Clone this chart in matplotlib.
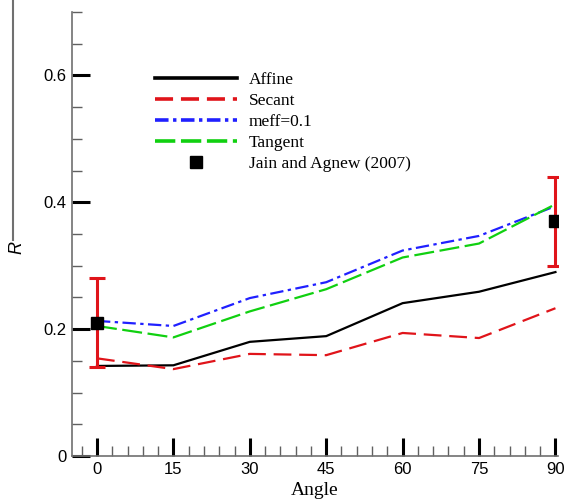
import matplotlib
matplotlib.use("Agg")
import matplotlib.pyplot as plt
from matplotlib.lines import Line2D
from matplotlib.ticker import MultipleLocator, FuncFormatter

angles = [0, 15, 30, 45, 60, 75, 90]
affine = [0.142, 0.143, 0.180, 0.189, 0.241, 0.259, 0.290]
secant = [0.154, 0.137, 0.161, 0.159, 0.194, 0.186, 0.233]
meff = [0.213, 0.205, 0.249, 0.274, 0.324, 0.347, 0.394]
tangent = [0.205, 0.187, 0.228, 0.263, 0.313, 0.335, 0.397]

exp_angle = [0, 90]
exp_r = [0.21, 0.37]
exp_lo = [0.14, 0.30]
exp_hi = [0.28, 0.44]

serif = ["Liberation Serif", "DejaVu Serif"]
sans = ["Liberation Sans", "DejaVu Sans"]

RED, BLUE, GREEN = "#e0141a", "#2020ff", "#10d010"
styles = {
    "Affine": dict(color="black", ls="-"),
    "Secant": dict(color=RED, ls=(0, (8, 3.5))),
    "meff=0.1": dict(color=BLUE, ls=(0, (6, 2, 1.5, 2))),
    "Tangent": dict(color=GREEN, ls=(0, (9, 2.5))),
}

fig = plt.figure(figsize=(5.79, 5.01), dpi=100)
ax = fig.add_axes([0.1244, 0.0898, 0.8393, 0.8862])

for name, vals in (("Affine", affine), ("Secant", secant),
                   ("meff=0.1", meff), ("Tangent", tangent)):
    ax.plot(angles, vals, lw=1.6, **styles[name])

err = [[r - lo for r, lo in zip(exp_r, exp_lo)], [hi - r for r, hi in zip(exp_r, exp_hi)]]
ax.errorbar(exp_angle, exp_r, yerr=err, fmt="none", ecolor=RED, elinewidth=2.2,
            capsize=6, capthick=2.2, zorder=4)
ax.plot(exp_angle, exp_r, "s", color="black", ms=8, ls="none", zorder=5)

ax.set_xlim(-4.9, 90.5)
ax.set_ylim(0, 0.7)
ax.spines["top"].set_visible(False)
ax.spines["right"].set_visible(False)
for s in ("left", "bottom"):
    ax.spines[s].set_color("#707070")
    ax.spines[s].set_linewidth(1.2)

ax.xaxis.set_major_locator(MultipleLocator(15))
ax.xaxis.set_minor_locator(MultipleLocator(3))
ax.yaxis.set_major_locator(MultipleLocator(0.2))
ax.yaxis.set_minor_locator(MultipleLocator(0.05))
ax.yaxis.set_major_formatter(FuncFormatter(lambda v, p: "0" if abs(v) < 1e-9 else f"{v:g}"))
ax.tick_params(which="major", direction="in", length=13, width=2.2, color="black",
               labelsize=12, pad=4)
ax.tick_params(which="minor", direction="in", length=7, width=1, color="#606060")
for lab in ax.get_xticklabels() + ax.get_yticklabels():
    lab.set_family(sans)

ax.set_xlabel("Angle", family=serif, fontsize=14, labelpad=4)

# y label: R with its overline stretched up the figure edge
fig.text(0.03, 0.505, "R", family=sans, fontsize=13, style="italic", rotation=90,
         ha="center", va="center")
fig.add_artist(Line2D([0.023, 0.023], [0.52, 1.0], transform=fig.transFigure,
                      color="#707070", lw=1.5))

# legend with thicker sample lines
handles = [Line2D([], [], lw=2.6, color=styles[n]["color"],
                  ls=styles[n]["ls"] if n == "Affine" else
                  (0, tuple(d / 1.6 for d in styles[n]["ls"][1])))
           for n in styles]
handles.append(Line2D([], [], marker="s", color="black", ms=8, ls="none"))
labels = list(styles) + ["Jain and Agnew (2007)"]
ax.legend(handles, labels, loc="upper left", bbox_to_anchor=(0.157, 0.88), frameon=False,
          prop={"family": serif, "size": 12.5}, handlelength=4.7,
          handletextpad=0.7, labelspacing=0.28, borderaxespad=0)

fig.savefig("out.png", dpi=100)
